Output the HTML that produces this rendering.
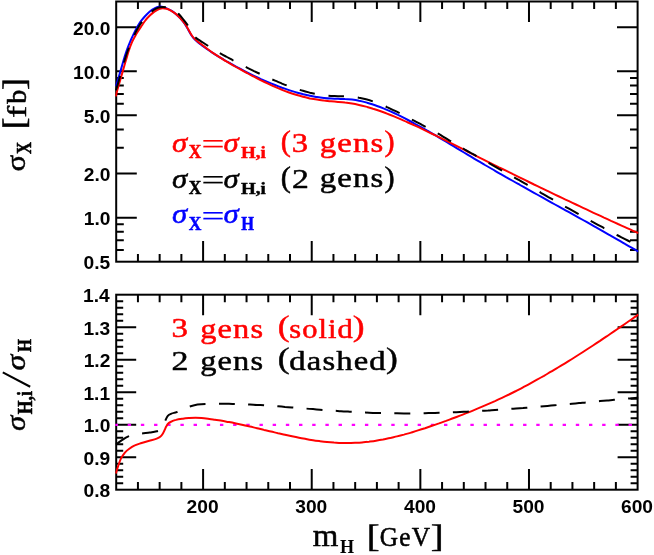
<!DOCTYPE html>
<html><head><meta charset="utf-8"><title>chart</title>
<style>
html,body{margin:0;padding:0;background:#fff;}
body{width:654px;height:555px;overflow:hidden;font-family:"Liberation Sans",sans-serif;}
svg{display:block;}
text{font-kerning:none;white-space:pre;}
</style></head><body>
<svg width="654" height="555" viewBox="0 0 654 555">
<rect width="654" height="555" fill="#fff"/>
<g opacity="0.999">
<g stroke="#000" stroke-width="2.00" fill="none" stroke-linecap="butt">
<rect x="116.2" y="1.5" width="521.4" height="260.2"/>
<rect x="116.2" y="294.7" width="521.4" height="195.0"/>
<path d="M137.93 1.5v7.6M137.93 261.7v-7.6M159.65 1.5v7.6M159.65 261.7v-7.6M181.38 1.5v7.6M181.38 261.7v-7.6M203.10 1.5v20.6M203.10 261.7v-20.6M224.82 1.5v7.6M224.82 261.7v-7.6M246.55 1.5v7.6M246.55 261.7v-7.6M268.27 1.5v7.6M268.27 261.7v-7.6M290.00 1.5v7.6M290.00 261.7v-7.6M311.73 1.5v20.6M311.73 261.7v-20.6M333.45 1.5v7.6M333.45 261.7v-7.6M355.18 1.5v7.6M355.18 261.7v-7.6M376.90 1.5v7.6M376.90 261.7v-7.6M398.62 1.5v7.6M398.62 261.7v-7.6M420.35 1.5v20.6M420.35 261.7v-20.6M442.07 1.5v7.6M442.07 261.7v-7.6M463.80 1.5v7.6M463.80 261.7v-7.6M485.52 1.5v7.6M485.52 261.7v-7.6M507.25 1.5v7.6M507.25 261.7v-7.6M528.98 1.5v20.6M528.98 261.7v-20.6M550.70 1.5v7.6M550.70 261.7v-7.6M572.43 1.5v7.6M572.43 261.7v-7.6M594.15 1.5v7.6M594.15 261.7v-7.6M615.88 1.5v7.6M615.88 261.7v-7.6M137.93 294.7v7.6M137.93 489.7v-7.6M159.65 294.7v7.6M159.65 489.7v-7.6M181.38 294.7v7.6M181.38 489.7v-7.6M203.10 294.7v20.6M203.10 489.7v-20.6M224.82 294.7v7.6M224.82 489.7v-7.6M246.55 294.7v7.6M246.55 489.7v-7.6M268.27 294.7v7.6M268.27 489.7v-7.6M290.00 294.7v7.6M290.00 489.7v-7.6M311.73 294.7v20.6M311.73 489.7v-20.6M333.45 294.7v7.6M333.45 489.7v-7.6M355.18 294.7v7.6M355.18 489.7v-7.6M376.90 294.7v7.6M376.90 489.7v-7.6M398.62 294.7v7.6M398.62 489.7v-7.6M420.35 294.7v20.6M420.35 489.7v-20.6M442.07 294.7v7.6M442.07 489.7v-7.6M463.80 294.7v7.6M463.80 489.7v-7.6M485.52 294.7v7.6M485.52 489.7v-7.6M507.25 294.7v7.6M507.25 489.7v-7.6M528.98 294.7v20.6M528.98 489.7v-20.6M550.70 294.7v7.6M550.70 489.7v-7.6M572.43 294.7v7.6M572.43 489.7v-7.6M594.15 294.7v7.6M594.15 489.7v-7.6M615.88 294.7v7.6M615.88 489.7v-7.6M116.2 27.27h20.6M637.6 27.27h-20.6M116.2 71.32h20.6M637.6 71.32h-20.6M116.2 78.01h7.6M637.6 78.01h-7.6M116.2 85.50h7.6M637.6 85.50h-7.6M116.2 93.99h7.6M637.6 93.99h-7.6M116.2 103.78h7.6M637.6 103.78h-7.6M116.2 115.37h20.6M637.6 115.37h-20.6M116.2 129.55h7.6M637.6 129.55h-7.6M116.2 147.83h7.6M637.6 147.83h-7.6M116.2 173.60h20.6M637.6 173.60h-20.6M116.2 217.65h20.6M637.6 217.65h-20.6M116.2 224.35h7.6M637.6 224.35h-7.6M116.2 231.83h7.6M637.6 231.83h-7.6M116.2 240.32h7.6M637.6 240.32h-7.6M116.2 250.11h7.6M637.6 250.11h-7.6M116.2 483.20h7.0M637.6 483.20h-7.0M116.2 476.70h7.0M637.6 476.70h-7.0M116.2 470.20h7.0M637.6 470.20h-7.0M116.2 463.70h7.0M637.6 463.70h-7.0M116.2 457.20h20.0M637.6 457.20h-20.0M116.2 450.70h7.0M637.6 450.70h-7.0M116.2 444.20h7.0M637.6 444.20h-7.0M116.2 437.70h7.0M637.6 437.70h-7.0M116.2 431.20h7.0M637.6 431.20h-7.0M116.2 424.70h20.0M637.6 424.70h-20.0M116.2 418.20h7.0M637.6 418.20h-7.0M116.2 411.70h7.0M637.6 411.70h-7.0M116.2 405.20h7.0M637.6 405.20h-7.0M116.2 398.70h7.0M637.6 398.70h-7.0M116.2 392.20h20.0M637.6 392.20h-20.0M116.2 385.70h7.0M637.6 385.70h-7.0M116.2 379.20h7.0M637.6 379.20h-7.0M116.2 372.70h7.0M637.6 372.70h-7.0M116.2 366.20h7.0M637.6 366.20h-7.0M116.2 359.70h20.0M637.6 359.70h-20.0M116.2 353.20h7.0M637.6 353.20h-7.0M116.2 346.70h7.0M637.6 346.70h-7.0M116.2 340.20h7.0M637.6 340.20h-7.0M116.2 333.70h7.0M637.6 333.70h-7.0M116.2 327.20h20.0M637.6 327.20h-20.0M116.2 320.70h7.0M637.6 320.70h-7.0M116.2 314.20h7.0M637.6 314.20h-7.0M116.2 307.70h7.0M637.6 307.70h-7.0M116.2 301.20h7.0M637.6 301.20h-7.0"/>
</g>
<clipPath id="c1"><rect x="115.20" y="0.50" width="523.40" height="262.20"/></clipPath>
<clipPath id="c2"><rect x="115.20" y="293.70" width="523.40" height="197.00"/></clipPath>
<g fill="none" stroke-width="2.0" stroke-linejoin="round" clip-path="url(#c1)">
<path d="M115.9 86.3C116.4 84.8 117.7 80.7 118.6 77.6C119.5 74.5 120.5 70.9 121.5 67.6C122.5 64.2 123.4 60.6 124.4 57.5C125.4 54.4 126.3 51.4 127.3 48.8C128.3 46.1 129.2 43.9 130.2 41.6C131.2 39.3 132.1 37.1 133.1 35.1C134.1 33.1 134.9 31.2 135.9 29.4C136.9 27.6 137.8 25.8 138.8 24.3C139.8 22.8 140.7 21.5 141.7 20.2C142.7 18.9 143.8 17.6 145.0 16.3C146.2 15.0 147.7 13.5 149.0 12.3C150.3 11.1 151.7 10.0 153.0 9.2C154.3 8.3 155.8 7.6 157.0 7.2C158.2 6.8 159.0 6.6 160.0 6.6C161.0 6.5 161.9 6.6 163.0 6.9C164.1 7.2 165.3 7.8 166.7 8.4C168.1 9.0 169.8 9.7 171.3 10.6C172.8 11.5 174.3 12.6 175.8 13.9C177.3 15.2 178.9 16.7 180.4 18.4C181.9 20.1 183.7 22.3 185.0 24.2C186.3 26.1 187.1 27.8 188.1 29.6C189.1 31.4 190.3 33.6 191.2 35.0C192.1 36.4 192.5 37.1 193.5 38.2C194.5 39.3 195.9 40.6 197.3 41.8C198.7 43.0 200.4 44.2 201.9 45.4C203.4 46.5 205.2 47.8 206.5 48.7C207.8 49.6 209.0 50.4 209.9 51.0C210.8 51.6 210.5 51.5 212.0 52.4C213.5 53.4 216.7 55.4 219.0 56.8C221.3 58.2 223.7 59.6 226.0 61.0C228.3 62.3 230.7 63.7 233.0 64.9C235.3 66.2 237.7 67.5 240.0 68.7C242.3 70.0 244.7 71.2 247.0 72.3C249.3 73.5 251.7 74.7 254.0 75.8C256.3 76.9 258.7 78.0 261.0 79.1C263.3 80.1 265.7 81.1 268.0 82.1C270.3 83.1 272.7 84.1 275.0 85.0C277.3 85.9 279.7 86.8 282.0 87.7C284.3 88.5 286.7 89.3 289.0 90.1C291.3 90.9 293.7 91.6 296.0 92.3C298.3 92.9 300.7 93.6 303.0 94.2C305.3 94.8 307.7 95.3 310.0 95.8C312.3 96.3 314.7 96.7 317.0 97.1C319.3 97.5 321.7 97.8 324.0 98.0C326.3 98.3 328.7 98.5 331.0 98.6C333.3 98.7 335.7 98.7 338.0 98.8C340.3 98.9 342.7 98.9 345.0 99.1C347.3 99.2 349.7 99.4 352.0 99.6C354.3 99.9 356.7 100.3 359.0 100.8C361.3 101.2 363.7 101.8 366.0 102.4C368.3 103.1 370.7 103.8 373.0 104.5C375.3 105.3 377.7 106.1 380.0 107.0C382.3 107.9 384.7 108.9 387.0 109.9C389.3 110.9 391.7 112.0 394.0 113.0C396.3 114.1 398.7 115.3 401.0 116.4C403.3 117.6 405.7 118.8 408.0 120.0C410.3 121.2 412.7 122.5 415.0 123.8C417.3 125.0 419.7 126.3 422.0 127.6C424.3 129.0 426.7 130.3 429.0 131.6C431.3 133.0 433.7 134.4 436.0 135.7C438.3 137.1 440.7 138.5 443.0 139.9C445.3 141.3 447.7 142.7 450.0 144.1C452.3 145.5 454.7 146.9 457.0 148.3C459.3 149.7 461.7 151.1 464.0 152.5C466.3 153.9 468.7 155.3 471.0 156.7C473.3 158.1 475.7 159.5 478.0 160.9C480.3 162.3 482.7 163.6 485.0 165.0C487.3 166.3 489.7 167.7 492.0 169.0C494.3 170.4 496.7 171.7 499.0 173.1C501.3 174.4 503.7 175.7 506.0 177.1C508.3 178.4 510.7 179.7 513.0 181.0C515.3 182.4 517.7 183.7 520.0 185.0C522.3 186.3 524.7 187.6 527.0 188.9C529.3 190.2 531.7 191.5 534.0 192.8C536.3 194.1 538.7 195.4 541.0 196.7C543.3 198.0 545.7 199.3 548.0 200.6C550.3 201.9 552.7 203.2 555.0 204.5C557.3 205.8 559.7 207.1 562.0 208.4C564.3 209.7 566.7 210.9 569.0 212.2C571.3 213.5 573.7 214.8 576.0 216.1C578.3 217.4 580.7 218.7 583.0 220.0C585.3 221.3 587.7 222.6 590.0 223.9C592.3 225.3 594.7 226.6 597.0 227.9C599.3 229.2 601.7 230.5 604.0 231.8C606.3 233.2 608.7 234.5 611.0 235.8C613.3 237.1 615.7 238.5 618.0 239.8C620.3 241.2 622.7 242.5 625.0 243.9C627.3 245.2 629.8 246.6 632.0 247.9C634.2 249.2 637.2 251.0 638.3 251.6" stroke="#0000ff"/>
<path d="M115.9 96.4C116.1 95.4 116.5 93.2 117.2 90.6C117.9 87.9 119.1 83.9 120.1 80.5C121.1 77.1 122.0 73.8 123.0 70.4C124.0 67.0 125.0 63.5 125.9 60.3C126.9 57.1 127.7 53.9 128.7 51.0C129.6 48.1 130.6 45.4 131.6 43.1C132.6 40.8 133.5 39.1 134.5 37.3C135.5 35.5 136.2 34.1 137.4 32.2C138.6 30.3 140.4 27.7 141.7 25.8C143.0 23.9 143.8 22.3 145.2 20.6C146.5 18.9 148.3 17.0 149.8 15.5C151.3 14.0 152.9 12.7 154.4 11.6C155.9 10.5 157.6 9.6 159.0 9.0C160.4 8.4 161.5 8.2 162.8 8.2C164.1 8.2 165.3 8.4 166.7 8.8C168.1 9.2 169.8 10.0 171.3 10.8C172.8 11.7 174.3 12.7 175.8 13.9C177.3 15.1 178.9 16.6 180.4 18.2C181.9 19.8 183.7 22.0 185.0 23.8C186.3 25.6 187.1 27.3 188.1 29.1C189.1 30.9 190.3 33.1 191.2 34.5C192.1 35.9 192.5 36.5 193.5 37.6C194.5 38.7 195.9 40.0 197.3 41.2C198.7 42.4 200.4 43.6 201.9 44.8C203.4 46.0 205.2 47.2 206.5 48.2C207.8 49.2 209.0 50.1 209.9 50.8C210.8 51.5 210.5 51.3 212.0 52.3C213.5 53.3 216.7 55.4 219.0 56.9C221.3 58.4 223.7 59.8 226.0 61.2C228.3 62.6 230.7 64.0 233.0 65.3C235.3 66.6 237.7 67.9 240.0 69.2C242.3 70.5 244.7 71.8 247.0 73.0C249.3 74.3 251.7 75.5 254.0 76.7C256.3 77.9 258.7 79.1 261.0 80.3C263.3 81.4 265.7 82.6 268.0 83.7C270.3 84.8 272.7 85.9 275.0 86.9C277.3 87.9 279.7 88.9 282.0 89.8C284.3 90.8 286.7 91.7 289.0 92.5C291.3 93.3 293.7 94.1 296.0 94.8C298.3 95.5 300.7 96.2 303.0 96.8C305.3 97.4 307.7 97.9 310.0 98.4C312.3 98.8 314.7 99.2 317.0 99.6C319.3 100.0 321.7 100.3 324.0 100.6C326.3 100.8 328.7 101.1 331.0 101.3C333.3 101.5 335.7 101.7 338.0 101.9C340.3 102.1 342.7 102.3 345.0 102.6C347.3 102.8 349.7 103.1 352.0 103.5C354.3 103.9 356.7 104.4 359.0 104.9C361.3 105.4 363.7 106.0 366.0 106.6C368.3 107.2 370.7 107.9 373.0 108.7C375.3 109.4 377.7 110.2 380.0 111.0C382.3 111.9 384.7 112.7 387.0 113.6C389.3 114.5 391.7 115.5 394.0 116.4C396.3 117.4 398.7 118.4 401.0 119.4C403.3 120.4 405.7 121.4 408.0 122.5C410.3 123.5 412.7 124.6 415.0 125.7C417.3 126.7 419.7 127.8 422.0 128.9C424.3 130.0 426.7 131.2 429.0 132.3C431.3 133.4 433.7 134.6 436.0 135.7C438.3 136.8 440.7 138.0 443.0 139.2C445.3 140.3 447.7 141.5 450.0 142.7C452.3 143.8 454.7 145.0 457.0 146.2C459.3 147.4 461.7 148.5 464.0 149.7C466.3 150.9 468.7 152.1 471.0 153.3C473.3 154.4 475.7 155.6 478.0 156.8C480.3 158.0 482.7 159.1 485.0 160.3C487.3 161.5 489.7 162.6 492.0 163.8C494.3 165.0 496.7 166.1 499.0 167.3C501.3 168.4 503.7 169.6 506.0 170.7C508.3 171.9 510.7 173.0 513.0 174.2C515.3 175.3 517.7 176.5 520.0 177.6C522.3 178.8 524.7 179.9 527.0 181.0C529.3 182.2 531.7 183.3 534.0 184.5C536.3 185.6 538.7 186.7 541.0 187.8C543.3 189.0 545.7 190.1 548.0 191.2C550.3 192.3 552.7 193.5 555.0 194.6C557.3 195.7 559.7 196.8 562.0 197.9C564.3 199.0 566.7 200.1 569.0 201.2C571.3 202.3 573.7 203.4 576.0 204.5C578.3 205.6 580.7 206.7 583.0 207.8C585.3 208.9 587.7 210.0 590.0 211.1C592.3 212.2 594.7 213.3 597.0 214.3C599.3 215.4 601.7 216.5 604.0 217.6C606.3 218.6 608.7 219.7 611.0 220.8C613.3 221.8 615.7 222.9 618.0 224.0C620.3 225.0 622.7 226.1 625.0 227.1C627.3 228.2 629.8 229.3 632.0 230.3C634.2 231.3 637.2 232.6 638.3 233.1" stroke="#ff0000"/>
<path id="bk1" d="M115.9 90.2C116.4 88.8 117.7 84.7 118.6 81.5C119.5 78.3 120.5 74.7 121.5 71.3C122.5 67.9 123.4 64.2 124.4 61.0C125.4 57.8 126.3 54.7 127.3 52.0C128.3 49.3 129.2 47.0 130.2 44.6C131.2 42.2 132.1 39.9 133.1 37.8C134.1 35.7 134.9 33.7 135.9 31.8C136.9 29.9 137.8 28.1 138.8 26.5C139.8 24.9 140.7 23.6 141.7 22.2C142.7 20.8 143.8 19.4 145.0 18.0C146.2 16.6 147.8 15.0 149.0 13.8C150.2 12.6 151.2 11.9 152.4 11.0C153.6 10.1 154.8 9.2 156.0 8.6C157.2 8.0 158.5 7.6 159.7 7.3C160.9 7.0 161.8 6.9 163.0 6.9C164.2 6.9 165.3 7.1 166.6 7.4C167.9 7.8 169.6 8.4 171.0 9.0C172.4 9.6 173.8 10.4 175.0 11.2C176.2 12.0 177.2 12.5 178.5 13.8C179.8 15.1 181.5 17.1 183.0 19.0C184.5 20.9 186.4 23.2 187.7 25.2C189.0 27.2 189.8 29.1 191.0 31.0C192.2 33.0 193.5 35.3 195.0 36.9C196.5 38.5 197.8 39.1 200.0 40.6C202.2 42.1 205.9 44.4 207.9 45.8C209.9 47.2 210.2 47.6 212.0 48.7C213.8 49.9 216.7 51.4 219.0 52.7C221.3 54.0 223.7 55.3 226.0 56.5C228.3 57.8 230.7 59.0 233.0 60.3C235.3 61.5 237.7 62.8 240.0 64.0C242.3 65.2 244.7 66.4 247.0 67.6C249.3 68.8 251.7 69.9 254.0 71.1C256.3 72.2 258.7 73.3 261.0 74.4C263.3 75.5 265.7 76.6 268.0 77.6C270.3 78.7 272.7 79.7 275.0 80.7C277.3 81.7 279.7 82.6 282.0 83.6C284.3 84.5 286.7 85.4 289.0 86.2C291.3 87.1 293.7 87.9 296.0 88.7C298.3 89.4 300.7 90.2 303.0 90.8C305.3 91.5 307.7 92.1 310.0 92.7C312.3 93.2 314.7 93.7 317.0 94.2C319.3 94.6 321.7 95.0 324.0 95.2C326.3 95.5 328.7 95.7 331.0 95.9C333.3 96.0 335.7 96.1 338.0 96.2C340.3 96.3 342.7 96.3 345.0 96.4C347.3 96.5 349.7 96.6 352.0 96.8C354.3 97.1 356.7 97.3 359.0 97.8C361.3 98.2 363.7 98.7 366.0 99.3C368.3 99.9 370.7 100.6 373.0 101.4C375.3 102.2 377.7 103.1 380.0 104.1C382.3 105.0 384.7 106.0 387.0 107.1C389.3 108.1 391.7 109.3 394.0 110.4C396.3 111.5 398.7 112.7 401.0 113.9C403.3 115.1 405.7 116.3 408.0 117.6C410.3 118.8 412.7 120.0 415.0 121.2C417.3 122.4 419.7 123.6 422.0 124.9C424.3 126.1 426.7 127.3 429.0 128.6C431.3 129.9 433.7 131.1 436.0 132.5C438.3 133.8 440.7 135.2 443.0 136.6C445.3 138.0 447.7 139.4 450.0 140.8C452.3 142.2 454.7 143.6 457.0 144.9C459.3 146.3 461.7 147.7 464.0 149.0C466.3 150.3 468.7 151.6 471.0 153.0C473.3 154.3 475.7 155.6 478.0 156.9C480.3 158.2 482.7 159.5 485.0 160.9C487.3 162.2 489.7 163.5 492.0 164.8C494.3 166.1 496.7 167.5 499.0 168.8C501.3 170.1 503.7 171.4 506.0 172.8C508.3 174.1 510.7 175.4 513.0 176.7C515.3 178.1 517.7 179.4 520.0 180.7C522.3 182.1 524.7 183.4 527.0 184.7C529.3 186.1 531.7 187.4 534.0 188.7C536.3 190.1 538.7 191.4 541.0 192.8C543.3 194.1 545.7 195.4 548.0 196.8C550.3 198.1 552.7 199.4 555.0 200.8C557.3 202.1 559.7 203.4 562.0 204.8C564.3 206.1 566.7 207.4 569.0 208.7C571.3 210.0 573.7 211.4 576.0 212.7C578.3 214.0 580.7 215.3 583.0 216.6C585.3 217.9 587.7 219.2 590.0 220.5C592.3 221.7 594.7 223.0 597.0 224.3C599.3 225.6 601.7 226.8 604.0 228.1C606.3 229.3 608.7 230.6 611.0 231.8C613.3 233.1 615.7 234.3 618.0 235.5C620.3 236.7 622.7 237.9 625.0 239.1C627.3 240.3 629.8 241.6 632.0 242.7C634.2 243.8 637.2 245.3 638.3 245.8" stroke="#000" stroke-dasharray="15.5 13.86" stroke-dashoffset="0.54"/>
</g>
<g fill="none" stroke-width="2.0" stroke-linejoin="round" clip-path="url(#c2)">
<path d="M114.50 424.90H637.6" stroke="#ff00ff" stroke-width="2.2" stroke-dasharray="3.4 9.78"/>
<path d="M115.9 473.5C116.2 472.3 117.2 469.0 118.0 466.5C118.8 464.0 119.8 460.9 120.9 458.6C122.1 456.3 123.6 454.2 124.9 452.6C126.2 451.1 126.9 450.5 128.6 449.3C130.2 448.1 132.6 446.4 134.8 445.4C137.0 444.3 138.8 443.9 141.6 443.0C144.3 442.1 148.8 441.0 151.3 440.3C153.8 439.6 155.2 439.2 156.7 438.6C158.2 438.0 159.2 437.6 160.2 436.8C161.2 436.0 161.9 435.1 162.6 434.0C163.3 432.9 163.9 431.5 164.5 430.3C165.1 429.1 165.6 427.7 166.2 426.6C166.8 425.6 167.1 424.8 167.8 424.0C168.5 423.2 169.1 422.7 170.5 422.0C171.9 421.3 173.9 420.4 176.0 419.9C178.1 419.3 180.7 419.0 182.9 418.7C185.2 418.4 187.4 418.2 189.5 418.0C191.6 417.8 193.5 417.7 195.5 417.7C197.5 417.7 199.2 417.7 201.5 417.9C203.8 418.1 207.2 418.6 209.4 418.9C211.7 419.2 212.9 419.4 215.0 419.7C217.1 420.1 219.7 420.4 222.0 420.8C224.3 421.2 226.7 421.7 229.0 422.1C231.3 422.5 233.7 423.0 236.0 423.5C238.3 424.0 240.7 424.5 243.0 425.0C245.3 425.5 247.7 426.0 250.0 426.6C252.3 427.1 254.7 427.7 257.0 428.2C259.3 428.8 261.7 429.3 264.0 429.9C266.3 430.4 268.7 431.0 271.0 431.5C273.3 432.1 275.7 432.6 278.0 433.2C280.3 433.7 282.7 434.3 285.0 434.8C287.3 435.3 289.7 435.8 292.0 436.3C294.3 436.8 296.7 437.3 299.0 437.7C301.3 438.2 303.7 438.6 306.0 439.0C308.3 439.5 310.7 439.9 313.0 440.2C315.3 440.6 317.7 440.9 320.0 441.2C322.3 441.5 324.7 441.8 327.0 442.0C329.3 442.2 331.7 442.4 334.0 442.6C336.3 442.7 338.7 442.9 341.0 442.9C343.3 443.0 345.7 443.0 348.0 443.0C350.3 443.0 352.7 442.9 355.0 442.8C357.3 442.7 359.7 442.6 362.0 442.4C364.3 442.2 366.7 441.9 369.0 441.7C371.3 441.4 373.7 441.1 376.0 440.7C378.3 440.3 380.7 439.9 383.0 439.5C385.3 439.0 387.7 438.6 390.0 438.1C392.3 437.5 394.7 437.0 397.0 436.4C399.3 435.8 401.7 435.2 404.0 434.6C406.3 433.9 408.7 433.3 411.0 432.6C413.3 431.9 415.7 431.2 418.0 430.4C420.3 429.7 422.7 428.9 425.0 428.2C427.3 427.4 429.7 426.6 432.0 425.8C434.3 425.0 436.7 424.2 439.0 423.4C441.3 422.5 443.7 421.7 446.0 420.9C448.3 420.0 450.7 419.2 453.0 418.3C455.3 417.4 457.7 416.5 460.0 415.6C462.3 414.8 464.7 413.8 467.0 412.9C469.3 412.0 471.7 411.1 474.0 410.1C476.3 409.2 478.7 408.2 481.0 407.2C483.3 406.2 485.7 405.2 488.0 404.2C490.3 403.2 492.7 402.1 495.0 401.1C497.3 400.0 499.7 398.9 502.0 397.8C504.3 396.7 506.7 395.6 509.0 394.5C511.3 393.3 513.7 392.1 516.0 391.0C518.3 389.8 520.7 388.6 523.0 387.3C525.3 386.1 527.7 384.9 530.0 383.6C532.3 382.3 534.7 381.0 537.0 379.7C539.3 378.4 541.7 377.1 544.0 375.8C546.3 374.4 548.7 373.1 551.0 371.7C553.3 370.3 555.7 369.0 558.0 367.5C560.3 366.1 562.7 364.7 565.0 363.3C567.3 361.9 569.7 360.4 572.0 359.0C574.3 357.5 576.7 356.0 579.0 354.5C581.3 353.1 583.7 351.6 586.0 350.0C588.3 348.5 590.7 347.0 593.0 345.5C595.3 344.0 597.7 342.4 600.0 340.9C602.3 339.3 604.7 337.7 607.0 336.2C609.3 334.6 611.7 333.0 614.0 331.4C616.3 329.8 618.7 328.2 621.0 326.6C623.3 325.0 625.7 323.4 628.0 321.8C630.3 320.2 633.3 318.1 635.0 316.9C636.7 315.7 637.8 315.0 638.3 314.6" stroke="#ff0000"/>
<path id="bk2" d="M115.9 444.6C116.9 443.9 119.9 441.5 121.9 440.2C123.9 438.9 125.8 437.5 127.9 436.6C130.0 435.7 132.2 435.2 134.5 434.7C136.8 434.2 139.0 434.0 141.6 433.6C144.2 433.2 147.3 433.0 149.8 432.6C152.3 432.2 155.0 431.8 156.8 431.3C158.6 430.8 159.5 430.6 160.5 429.6C161.5 428.6 162.2 426.9 163.0 425.5C163.8 424.1 164.2 422.9 165.0 421.3C165.8 419.7 166.7 417.1 167.8 415.8C168.9 414.5 170.0 414.2 171.5 413.6C173.0 413.0 174.8 412.8 176.7 412.1C178.6 411.4 180.8 410.1 183.0 409.2C185.2 408.3 187.2 407.4 189.6 406.6C192.0 405.8 194.9 405.1 197.5 404.6C200.1 404.2 202.5 404.0 205.4 403.9C208.3 403.8 212.2 403.8 215.0 403.8C217.8 403.8 219.7 403.8 222.0 403.8C224.3 403.8 226.7 403.8 229.0 403.8C231.3 403.9 233.7 403.9 236.0 404.0C238.3 404.1 240.7 404.1 243.0 404.2C245.3 404.3 247.7 404.4 250.0 404.5C252.3 404.6 254.7 404.8 257.0 404.9C259.3 405.0 261.7 405.2 264.0 405.3C266.3 405.5 268.7 405.6 271.0 405.8C273.3 406.0 275.7 406.1 278.0 406.3C280.3 406.5 282.7 406.7 285.0 406.9C287.3 407.0 289.7 407.2 292.0 407.4C294.3 407.6 296.7 407.8 299.0 408.0C301.3 408.2 303.7 408.4 306.0 408.6C308.3 408.7 310.7 408.9 313.0 409.1C315.3 409.3 317.7 409.5 320.0 409.7C322.3 409.9 324.7 410.0 327.0 410.2C329.3 410.4 331.7 410.6 334.0 410.7C336.3 410.9 338.7 411.0 341.0 411.2C343.3 411.4 345.7 411.5 348.0 411.6C350.3 411.8 352.7 411.9 355.0 412.0C357.3 412.2 359.7 412.3 362.0 412.4C364.3 412.5 366.7 412.6 369.0 412.7C371.3 412.8 373.7 412.9 376.0 412.9C378.3 413.0 380.7 413.1 383.0 413.1C385.3 413.2 387.7 413.2 390.0 413.3C392.3 413.3 394.7 413.3 397.0 413.3C399.3 413.4 401.7 413.4 404.0 413.4C406.3 413.4 408.7 413.4 411.0 413.4C413.3 413.3 415.7 413.3 418.0 413.3C420.3 413.3 422.7 413.2 425.0 413.2C427.3 413.1 429.7 413.1 432.0 413.0C434.3 413.0 436.7 412.9 439.0 412.8C441.3 412.8 443.7 412.7 446.0 412.6C448.3 412.5 450.7 412.4 453.0 412.3C455.3 412.2 457.7 412.1 460.0 412.0C462.3 411.9 464.7 411.8 467.0 411.7C469.3 411.6 471.7 411.5 474.0 411.3C476.3 411.2 478.7 411.1 481.0 410.9C483.3 410.8 485.7 410.6 488.0 410.5C490.3 410.3 492.7 410.2 495.0 410.0C497.3 409.9 499.7 409.7 502.0 409.5C504.3 409.4 506.7 409.2 509.0 409.0C511.3 408.9 513.7 408.7 516.0 408.5C518.3 408.3 520.7 408.1 523.0 408.0C525.3 407.8 527.7 407.6 530.0 407.4C532.3 407.2 534.7 407.0 537.0 406.8C539.3 406.6 541.7 406.4 544.0 406.2C546.3 406.0 548.7 405.8 551.0 405.6C553.3 405.4 555.7 405.2 558.0 405.0C560.3 404.8 562.7 404.6 565.0 404.4C567.3 404.1 569.7 403.9 572.0 403.7C574.3 403.5 576.7 403.3 579.0 403.1C581.3 402.9 583.7 402.6 586.0 402.4C588.3 402.2 590.7 402.0 593.0 401.8C595.3 401.6 597.7 401.3 600.0 401.1C602.3 400.9 604.7 400.7 607.0 400.5C609.3 400.3 611.7 400.0 614.0 399.8C616.3 399.6 618.7 399.4 621.0 399.2C623.3 399.0 625.7 398.8 628.0 398.6C630.3 398.3 633.3 398.1 635.0 397.9C636.7 397.8 637.8 397.7 638.3 397.6" stroke="#000" stroke-dasharray="16 13.3" stroke-dashoffset="0.3"/>
</g>
<text transform="translate(73.12,34.88) scale(1.0000,1.0000)" font-family="Liberation Sans" font-weight="bold" font-style="normal" font-size="19.20" fill="#000">20.0</text>
<text transform="translate(73.12,78.93) scale(1.0000,1.0000)" font-family="Liberation Sans" font-weight="bold" font-style="normal" font-size="19.20" fill="#000">10.0</text>
<text transform="translate(83.80,122.98) scale(1.0000,1.0000)" font-family="Liberation Sans" font-weight="bold" font-style="normal" font-size="19.20" fill="#000">5.0</text>
<text transform="translate(83.80,181.21) scale(1.0000,1.0000)" font-family="Liberation Sans" font-weight="bold" font-style="normal" font-size="19.20" fill="#000">2.0</text>
<text transform="translate(83.80,225.26) scale(1.0000,1.0000)" font-family="Liberation Sans" font-weight="bold" font-style="normal" font-size="19.20" fill="#000">1.0</text>
<text transform="translate(83.54,269.31) scale(1.0000,1.0000)" font-family="Liberation Sans" font-weight="bold" font-style="normal" font-size="19.20" fill="#000">0.5</text>
<text transform="translate(83.50,497.01) scale(1.0000,1.0000)" font-family="Liberation Sans" font-weight="bold" font-style="normal" font-size="19.20" fill="#000">0.8</text>
<text transform="translate(83.62,464.51) scale(1.0000,1.0000)" font-family="Liberation Sans" font-weight="bold" font-style="normal" font-size="19.20" fill="#000">0.9</text>
<text transform="translate(83.70,432.01) scale(1.0000,1.0000)" font-family="Liberation Sans" font-weight="bold" font-style="normal" font-size="19.20" fill="#000">1.0</text>
<text transform="translate(83.44,399.51) scale(1.0000,1.0000)" font-family="Liberation Sans" font-weight="bold" font-style="normal" font-size="19.20" fill="#000">1.1</text>
<text transform="translate(83.68,367.01) scale(1.0000,1.0000)" font-family="Liberation Sans" font-weight="bold" font-style="normal" font-size="19.20" fill="#000">1.2</text>
<text transform="translate(83.60,334.51) scale(1.0000,1.0000)" font-family="Liberation Sans" font-weight="bold" font-style="normal" font-size="19.20" fill="#000">1.3</text>
<text transform="translate(83.01,302.01) scale(1.0000,1.0000)" font-family="Liberation Sans" font-weight="bold" font-style="normal" font-size="19.20" fill="#000">1.4</text>
<text transform="translate(186.54,512.91) scale(1.0000,1.0000)" font-family="Liberation Sans" font-weight="bold" font-style="normal" font-size="19.20" fill="#000">200</text>
<text transform="translate(295.28,512.91) scale(1.0000,1.0000)" font-family="Liberation Sans" font-weight="bold" font-style="normal" font-size="19.20" fill="#000">300</text>
<text transform="translate(403.98,512.91) scale(1.0000,1.0000)" font-family="Liberation Sans" font-weight="bold" font-style="normal" font-size="19.20" fill="#000">400</text>
<text transform="translate(512.46,512.91) scale(1.0000,1.0000)" font-family="Liberation Sans" font-weight="bold" font-style="normal" font-size="19.20" fill="#000">500</text>
<text transform="translate(621.02,512.91) scale(1.0000,1.0000)" font-family="Liberation Sans" font-weight="bold" font-style="normal" font-size="19.20" fill="#000">600</text>
<text transform="translate(172.09,151.94) scale(0.3070,0.2627)" font-family="Liberation Serif" font-weight="normal" font-style="italic" font-size="100" fill="#ff0000" stroke="#ff0000" stroke-width="1.93" stroke-linejoin="round">σ</text><text transform="translate(188.78,158.20) scale(0.1749,0.1985)" font-family="Liberation Serif" font-weight="bold" font-style="normal" font-size="100" fill="#ff0000" stroke="#ff0000" stroke-width="2.68" stroke-linejoin="round">X</text><text transform="translate(201.57,153.31) scale(0.4083,0.2760)" font-family="Liberation Serif" font-weight="normal" font-style="normal" font-size="100" fill="#ff0000" stroke="#ff0000" stroke-width="0.88" stroke-linejoin="round">=</text><text transform="translate(223.59,151.94) scale(0.3070,0.2627)" font-family="Liberation Serif" font-weight="normal" font-style="italic" font-size="100" fill="#ff0000" stroke="#ff0000" stroke-width="1.93" stroke-linejoin="round">σ</text><text transform="translate(240.98,158.20) scale(1.1311,1.0000)" font-family="Liberation Serif" font-weight="bold" font-style="normal" font-size="16.79" fill="#ff0000" stroke="#ff0000" stroke-width="0.47" stroke-linejoin="round">H,i</text><text transform="translate(280.87,151.01) scale(0.3037,0.2956)" font-family="Liberation Serif" font-weight="normal" font-style="normal" font-size="100" fill="#ff0000" stroke="#ff0000" stroke-width="1.84" stroke-linejoin="round">(</text><text transform="translate(291.84,151.74) scale(0.3268,0.2679)" font-family="Liberation Serif" font-weight="normal" font-style="normal" font-size="100" fill="#ff0000" stroke="#ff0000" stroke-width="1.85" stroke-linejoin="round">3</text><text transform="translate(319.69,151.80) scale(1.1739,1.0000)" font-family="Liberation Serif" font-weight="normal" font-style="normal" font-size="28.00" fill="#ff0000" stroke="#ff0000" stroke-width="0.51" stroke-linejoin="round" letter-spacing="0.98">gens</text><text transform="translate(384.62,151.01) scale(0.3037,0.2956)" font-family="Liberation Serif" font-weight="normal" font-style="normal" font-size="100" fill="#ff0000" stroke="#ff0000" stroke-width="1.84" stroke-linejoin="round">)</text>
<text transform="translate(172.09,187.54) scale(0.3070,0.2627)" font-family="Liberation Serif" font-weight="normal" font-style="italic" font-size="100" fill="#000" stroke="#000" stroke-width="1.93" stroke-linejoin="round">σ</text><text transform="translate(188.78,193.80) scale(0.1749,0.1985)" font-family="Liberation Serif" font-weight="bold" font-style="normal" font-size="100" fill="#000" stroke="#000" stroke-width="2.68" stroke-linejoin="round">X</text><text transform="translate(201.57,188.91) scale(0.4083,0.2760)" font-family="Liberation Serif" font-weight="normal" font-style="normal" font-size="100" fill="#000" stroke="#000" stroke-width="0.88" stroke-linejoin="round">=</text><text transform="translate(223.59,187.54) scale(0.3070,0.2627)" font-family="Liberation Serif" font-weight="normal" font-style="italic" font-size="100" fill="#000" stroke="#000" stroke-width="1.93" stroke-linejoin="round">σ</text><text transform="translate(240.98,193.80) scale(1.1311,1.0000)" font-family="Liberation Serif" font-weight="bold" font-style="normal" font-size="16.79" fill="#000" stroke="#000" stroke-width="0.47" stroke-linejoin="round">H,i</text><text transform="translate(280.87,186.61) scale(0.3037,0.2956)" font-family="Liberation Serif" font-weight="normal" font-style="normal" font-size="100" fill="#000" stroke="#000" stroke-width="1.84" stroke-linejoin="round">(</text><text transform="translate(291.92,187.60) scale(0.3368,0.2719)" font-family="Liberation Serif" font-weight="normal" font-style="normal" font-size="100" fill="#000" stroke="#000" stroke-width="1.81" stroke-linejoin="round">2</text><text transform="translate(319.69,187.40) scale(1.1739,1.0000)" font-family="Liberation Serif" font-weight="normal" font-style="normal" font-size="28.00" fill="#000" stroke="#000" stroke-width="0.51" stroke-linejoin="round" letter-spacing="0.98">gens</text><text transform="translate(384.62,186.61) scale(0.3037,0.2956)" font-family="Liberation Serif" font-weight="normal" font-style="normal" font-size="100" fill="#000" stroke="#000" stroke-width="1.84" stroke-linejoin="round">)</text>
<text transform="translate(172.09,223.34) scale(0.3070,0.2627)" font-family="Liberation Serif" font-weight="normal" font-style="italic" font-size="100" fill="#0000ff" stroke="#0000ff" stroke-width="1.93" stroke-linejoin="round">σ</text><text transform="translate(188.78,229.60) scale(0.1749,0.1985)" font-family="Liberation Serif" font-weight="bold" font-style="normal" font-size="100" fill="#0000ff" stroke="#0000ff" stroke-width="2.68" stroke-linejoin="round">X</text><text transform="translate(201.57,224.71) scale(0.4083,0.2760)" font-family="Liberation Serif" font-weight="normal" font-style="normal" font-size="100" fill="#0000ff" stroke="#0000ff" stroke-width="0.88" stroke-linejoin="round">=</text><text transform="translate(223.59,223.34) scale(0.3070,0.2627)" font-family="Liberation Serif" font-weight="normal" font-style="italic" font-size="100" fill="#0000ff" stroke="#0000ff" stroke-width="1.93" stroke-linejoin="round">σ</text><text transform="translate(241.32,229.60) scale(0.1639,0.1985)" font-family="Liberation Serif" font-weight="bold" font-style="normal" font-size="100" fill="#0000ff" stroke="#0000ff" stroke-width="2.76" stroke-linejoin="round">H</text>
<text transform="translate(171.42,337.43) scale(0.3292,0.2739)" font-family="Liberation Serif" font-weight="normal" font-style="normal" font-size="100" fill="#ff0000" stroke="#ff0000" stroke-width="1.82" stroke-linejoin="round">3</text><text transform="translate(200.21,337.50) scale(1.1585,1.0000)" font-family="Liberation Serif" font-weight="normal" font-style="normal" font-size="28.00" fill="#ff0000" stroke="#ff0000" stroke-width="0.51" stroke-linejoin="round" letter-spacing="0.98">gens</text><text transform="translate(277.64,336.24) scale(0.3543,0.3033)" font-family="Liberation Serif" font-weight="normal" font-style="normal" font-size="100" fill="#ff0000" stroke="#ff0000" stroke-width="1.67" stroke-linejoin="round">(</text><text transform="translate(289.25,337.50) scale(1.0882,1.0000)" font-family="Liberation Serif" font-weight="normal" font-style="normal" font-size="28.00" fill="#ff0000" stroke="#ff0000" stroke-width="0.53" stroke-linejoin="round" letter-spacing="0.98">solid</text><text transform="translate(352.76,336.24) scale(0.3543,0.3033)" font-family="Liberation Serif" font-weight="normal" font-style="normal" font-size="100" fill="#ff0000" stroke="#ff0000" stroke-width="1.67" stroke-linejoin="round">)</text>
<text transform="translate(171.51,369.70) scale(0.3393,0.2779)" font-family="Liberation Serif" font-weight="normal" font-style="normal" font-size="100" fill="#000" stroke="#000" stroke-width="1.78" stroke-linejoin="round">2</text><text transform="translate(200.21,369.50) scale(1.1585,1.0000)" font-family="Liberation Serif" font-weight="normal" font-style="normal" font-size="28.00" fill="#000" stroke="#000" stroke-width="0.51" stroke-linejoin="round" letter-spacing="0.98">gens</text><text transform="translate(277.64,368.24) scale(0.3543,0.3033)" font-family="Liberation Serif" font-weight="normal" font-style="normal" font-size="100" fill="#000" stroke="#000" stroke-width="1.67" stroke-linejoin="round">(</text><text transform="translate(289.32,369.50) scale(1.1661,1.0000)" font-family="Liberation Serif" font-weight="normal" font-style="normal" font-size="28.00" fill="#000" stroke="#000" stroke-width="0.51" stroke-linejoin="round" letter-spacing="0.98">dashed</text><text transform="translate(385.96,368.24) scale(0.3543,0.3033)" font-family="Liberation Serif" font-weight="normal" font-style="normal" font-size="100" fill="#000" stroke="#000" stroke-width="1.67" stroke-linejoin="round">)</text>
<text transform="translate(312.81,545.70) scale(1.0641,1.0000)" font-family="Liberation Serif" font-weight="normal" font-style="normal" font-size="30.94" fill="#000" stroke="#000" stroke-width="0.53" stroke-linejoin="round">m</text>
<text transform="translate(340.09,552.50) scale(0.1814,0.1787)" font-family="Liberation Serif" font-weight="bold" font-style="normal" font-size="100" fill="#000">H</text>
<text transform="translate(366.83,546.74) scale(0.3862,0.3262)" font-family="Liberation Serif" font-weight="normal" font-style="normal" font-size="100" fill="#000" stroke="#000" stroke-width="1.54" stroke-linejoin="round">[</text>
<text transform="translate(379.66,545.70) scale(0.9204,1.0000)" font-family="Liberation Serif" font-weight="normal" font-style="normal" font-size="27.50" fill="#000" stroke="#000" stroke-width="0.57" stroke-linejoin="round" letter-spacing="1.38">GeV</text>
<text transform="translate(430.70,546.74) scale(0.3862,0.3262)" font-family="Liberation Serif" font-weight="normal" font-style="normal" font-size="100" fill="#000" stroke="#000" stroke-width="1.54" stroke-linejoin="round">]</text>
<text transform="rotate(-90) translate(-171.48,24.73) scale(0.3087,0.2742)" font-family="Liberation Serif" font-weight="normal" font-style="normal" font-size="100" fill="#000" stroke="#000" stroke-width="1.72" stroke-linejoin="round">σ</text><text transform="rotate(-90) translate(-154.11,30.70) scale(0.1662,0.2062)" font-family="Liberation Serif" font-weight="bold" font-style="normal" font-size="100" fill="#000" stroke="#000" stroke-width="2.69" stroke-linejoin="round">X</text><text transform="rotate(-90) translate(-129.13,25.38) scale(0.3548,0.3226)" font-family="Liberation Serif" font-weight="normal" font-style="normal" font-size="100" fill="#000" stroke="#000" stroke-width="1.62" stroke-linejoin="round">[</text><text transform="rotate(-90) translate(-117.71,25.80) scale(0.3606,0.2713)" font-family="Liberation Serif" font-weight="normal" font-style="normal" font-size="100" fill="#000" stroke="#000" stroke-width="1.74" stroke-linejoin="round">f</text><text transform="rotate(-90) translate(-103.70,25.83) scale(0.2793,0.2729)" font-family="Liberation Serif" font-weight="normal" font-style="normal" font-size="100" fill="#000" stroke="#000" stroke-width="1.99" stroke-linejoin="round">b</text><text transform="rotate(-90) translate(-90.08,25.38) scale(0.3548,0.3226)" font-family="Liberation Serif" font-weight="normal" font-style="normal" font-size="100" fill="#000" stroke="#000" stroke-width="1.62" stroke-linejoin="round">]</text>
<text transform="rotate(-90) translate(-431.02,25.33) scale(0.3090,0.2779)" font-family="Liberation Serif" font-weight="normal" font-style="italic" font-size="100" fill="#000" stroke="#000" stroke-width="1.70" stroke-linejoin="round">σ</text><text transform="rotate(-90) translate(-414.30,31.50) scale(0.8672,1.0000)" font-family="Liberation Serif" font-weight="bold" font-style="normal" font-size="20.46" fill="#000" stroke="#000" stroke-width="0.54" stroke-linejoin="round">H,i</text><path d="M2.8 372.4L30.2 386.8" stroke="#000" stroke-width="2.1" fill="none"/><text transform="rotate(-90) translate(-370.55,25.33) scale(0.3191,0.2779)" font-family="Liberation Serif" font-weight="normal" font-style="italic" font-size="100" fill="#000" stroke="#000" stroke-width="1.68" stroke-linejoin="round">σ</text><text transform="rotate(-90) translate(-351.89,31.40) scale(0.1680,0.1894)" font-family="Liberation Serif" font-weight="bold" font-style="normal" font-size="100" fill="#000" stroke="#000" stroke-width="2.80" stroke-linejoin="round">H</text>
</g>
</svg>
</body></html>
